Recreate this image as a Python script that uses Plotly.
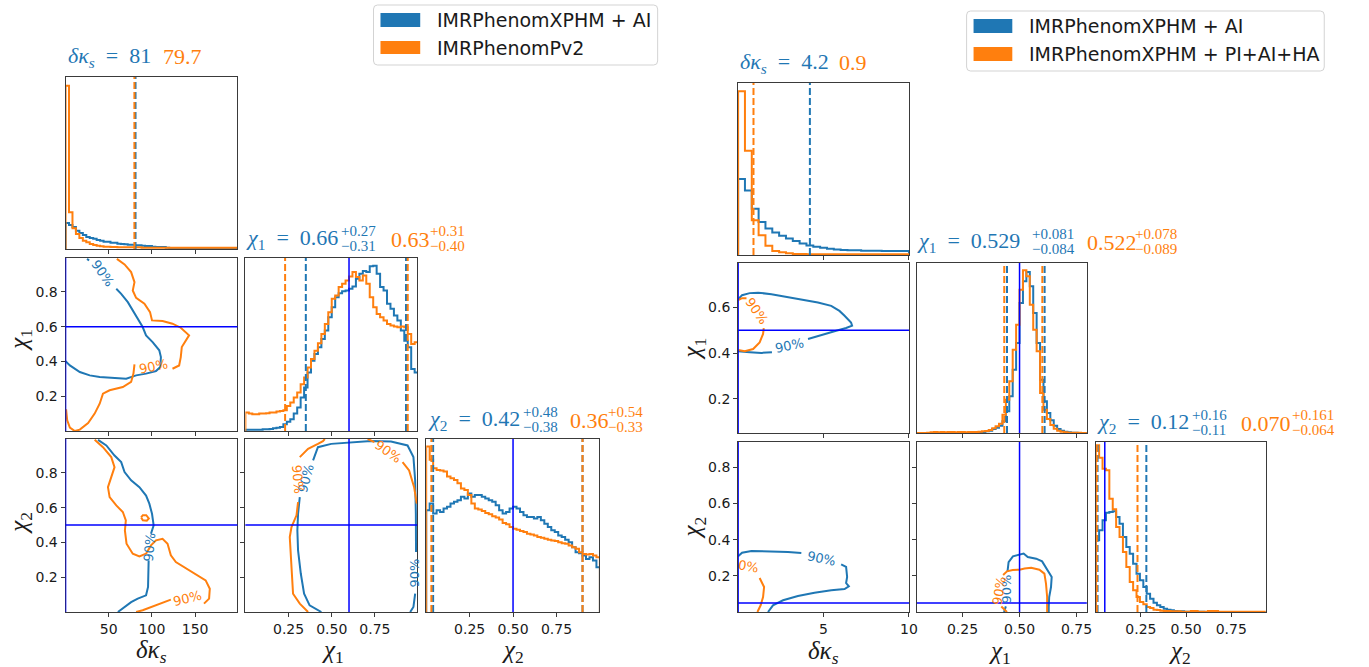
import numpy as np
import plotly.graph_objects as go

W, H = 1369, 667
BLUE = "#1f77b4"
ORANGE = "#ff7f0e"
TRUTH = "#0000ff"
SPINE = "#3a3a3a"
SANS = "DejaVu Sans"
SERIF = "Liberation Serif"

# ------------------------------------------------------------------
# Left corner: IMRPhenomXPHM + AI (blue) vs IMRPhenomPv2 (orange)
# ------------------------------------------------------------------
L_legend = ["IMRPhenomXPHM + AI", "IMRPhenomPv2"]
L_truth_dks, L_truth_chi1, L_truth_chi2 = 0.0, 0.6, 0.5

L_dks_upper = ["81", "79.7"]                       # 90% upper bounds
L_chi1_stats = [["0.66", "0.27", "0.31"], ["0.63", "0.31", "0.40"]]
L_chi2_stats = [["0.42", "0.48", "0.38"], ["0.36", "0.54", "0.33"]]

L_dks_bins = (0.0, 200.0, 50)
L_dks_hist_blue = [78, 72, 66, 55, 48, 42, 36, 33, 31, 27, 25, 22, 22, 19, 19, 16, 15, 14, 13, 13,
                   11, 11, 10, 9, 9, 7, 6, 6, 6, 4, 3, 3, 3, 3, 3, 2, 2, 2, 2, 2,
                   2, 2, 2, 2, 2, 2, 2, 2, 2, 2]
L_dks_hist_orange = [490, 110, 62, 45, 33, 25, 20, 15, 12, 10, 8, 7, 7, 6, 6, 5, 5, 5, 5, 5,
                     5, 5, 4, 4, 4, 4, 4, 4, 4, 4, 4, 4, 4, 4, 4, 4, 4, 4, 4, 4,
                     4, 4, 4, 4, 4, 4, 4, 4, 4, 4]

L_chi1_bins = (0.0, 1.0, 50)
L_chi1_hist_blue = [4, 4, 4, 4, 4, 5, 5, 6, 8, 10, 12, 20, 28, 35, 52, 70, 100, 130, 175, 210,
                    230, 250, 275, 300, 340, 370, 400, 412, 418, 420, 425, 432, 455, 470, 478, 475, 492, 494, 470, 430,
                    420, 380, 365, 345, 330, 300, 270, 250, 185, 175]
L_chi1_hist_orange = [55, 52, 50, 50, 52, 52, 53, 55, 55, 58, 60, 62, 75, 85, 100, 115, 140, 160, 190, 215,
                      240, 262, 290, 320, 355, 395, 405, 430, 440, 450, 462, 475, 460, 450, 465, 440, 400, 370, 350, 340,
                      330, 320, 315, 312, 310, 312, 310, 290, 260, 265]

L_chi2_bins = (0.0, 1.0, 50)
L_chi2_hist_blue = [303, 323, 293, 303, 298, 308, 313, 323, 328, 333, 343, 338, 353, 343, 348, 348, 343, 338, 333, 328,
                    318, 303, 293, 298, 308, 313, 308, 298, 288, 283, 283, 278, 283, 273, 263, 253, 243, 238, 228, 223,
                    215, 208, 193, 178, 175, 168, 158, 163, 153, 133]
L_chi2_hist_orange = [493, 453, 428, 423, 421, 418, 403, 398, 393, 383, 368, 363, 348, 323, 308, 305, 301, 295, 291, 285,
                      281, 275, 265, 261, 253, 248, 245, 241, 238, 233, 231, 228, 223, 221, 218, 215, 213, 211, 208, 205,
                      203, 198, 193, 188, 178, 173, 171, 173, 168, 163]

# 90% credible contours (None separates pieces / label gaps)
L_c_chi1_dks_blue_x = [0, 5.0, 16.5, 28.0, 39.5, 54.8, 70.2, 81.7, 93.2, 104.7, 109.7, 110.4, 108.5, 100.8,
                       93.2, 89.3, 83.6, 77.8, 72.1, 64.4, 58.7, None, 27.2, 24.9]
L_c_chi1_dks_blue_y = [0.402, 0.377, 0.339, 0.320, 0.310, 0.307, 0.301, 0.320, 0.330, 0.345, 0.368, 0.425, 0.464, 0.511,
                       0.550, 0.598, 0.646, 0.693, 0.741, 0.789, 0.818, None, 0.981, 0.990]
L_c_chi1_dks_orange_x = [59.4, 68.3, 75.9, 79.8, 77.8, 81.7, 91.3, 97.8, 100.1, 112.3, 123.8, 133.4, 143.0, 139.2,
                         134.6, 133.4, 131.5, 123.8, None, 79.8, 78.6, 75.9, 66.3, 51.0, 43.3, 39.5, 33.7, 26.1,
                         16.5, 10.7, 5.0, 1.9, 0.6]
L_c_chi1_dks_orange_y = [0.990, 0.958, 0.914, 0.856, 0.808, 0.766, 0.732, 0.684, 0.636, 0.632, 0.617, 0.594, 0.550, 0.521,
                         0.483, 0.425, 0.377, 0.358, None, 0.383, 0.330, 0.282, 0.253, 0.234, 0.215, 0.157, 0.100, 0.046,
                         0.008, 0.0, 0.019, 0.061, 0.125]

L_c_chi2_dks_blue_x = [37.6, 47.2, 56.7, 64.4, 68.3, 75.9, 85.5, 93.2, 97.0, 100.1, 102.0, 98.9, None,
                       96.2, 96.2, 95.5, 93.2, 83.6, 75.9, 68.3, 60.6]
L_c_chi2_dks_blue_y = [0.990, 0.958, 0.900, 0.862, 0.805, 0.757, 0.718, 0.670, 0.623, 0.565, 0.498, 0.450, None,
                       0.297, 0.220, 0.144, 0.096, 0.077, 0.057, 0.029, 0.0]
L_c_chi2_dks_orange_x = [33.7, 43.3, 52.9, 56.7, 52.9, 49.1, 51.0, 58.7, 66.3, 69.8, 68.7, 70.6, 77.8, 85.5,
                         93.2, 98.9, 104.7, 112.3, 118.1, 121.9, 127.7, 137.3, 150.7, 162.2, 167.0, 166.2, 160.3, None,
                         121.9, 104.7, 89.3, 81.7, None,
                         87.5, 89.5, 93.4, 96.4, 94.1, 89.5, 87.5]
L_c_chi2_dks_orange_y = [0.990, 0.948, 0.891, 0.833, 0.776, 0.718, 0.661, 0.613, 0.575, 0.527, 0.469, 0.393, 0.335, 0.320,
                         0.335, 0.383, 0.412, 0.421, 0.393, 0.326, 0.287, 0.259, 0.220, 0.182, 0.134, 0.077, 0.048, None,
                         0.071, 0.038, 0.010, 0.0, None,
                         0.544, 0.557, 0.557, 0.538, 0.525, 0.528, 0.544]

L_c_chi2_chi1_blue_x = [0.440, 0.372, 0.340, 0.321, 0.305, 0.301, 0.305, 0.315, None, 0.392, 0.420, 0.497, 0.612,
                        0.727, 0.843, 0.939, 0.973, 0.983, 0.987, 0.988, None, 0.983, 0.973, 0.954]
L_c_chi2_chi1_blue_y = [0.0, 0.038, 0.105, 0.220, 0.354, 0.469, 0.565, 0.661, None, 0.872, 0.948, 0.967, 0.977,
                        0.983, 0.981, 0.958, 0.891, 0.757, 0.565, 0.345, None, 0.105, 0.029, 0.0]
L_c_chi2_chi1_orange_x = [0.363, 0.315, 0.276, 0.267, 0.257, 0.267, 0.296, 0.305, None, 0.315, 0.363, 0.420, 0.449,
                          0.46, None, 0.708, 0.747, None, 0.910, 0.948, 0.977, 0.992]
L_c_chi2_chi1_orange_y = [0.0, 0.048, 0.105, 0.239, 0.431, 0.488, 0.556, 0.632, None, 0.891, 0.939, 0.967, 0.983,
                          0.995, None, 0.995, 0.977, None, 0.862, 0.814, 0.718, 0.623]

# ------------------------------------------------------------------
# Right corner: IMRPhenomXPHM + AI (blue) vs IMRPhenomXPHM + PI+AI+HA (orange)
# ------------------------------------------------------------------
R_legend = ["IMRPhenomXPHM + AI", "IMRPhenomXPHM + PI+AI+HA"]
R_truth_dks, R_truth_chi1, R_truth_chi2 = 0.0, 0.5, 0.05

R_dks_upper = ["4.2", "0.9"]
R_chi1_stats = [["0.529", "0.081", "0.084"], ["0.522", "0.078", "0.089"]]
R_chi2_stats = [["0.12", "0.16", "0.11"], ["0.070", "0.161", "0.064"]]

R_dks_bins = (0.0, 10.0, 25)
R_dks_hist_blue = [230, 195, 140, 100, 80, 68, 58, 50, 42, 35, 29, 25, 22, 19, 17, 15, 14, 14, 13, 13,
                   13, 12, 12, 12, 12]
R_dks_hist_orange = [495, 315, 105, 60, 28, 12, 8, 5, 3, 3, 2, 2, 2, 2, 2, 2, 2, 2, 2, 2,
                     2, 2, 2, 2, 2]

R_chi1_bins = (0.05, 0.80, 50)
R_chi1_hist_blue = [0, 0, 0, 0, 0, 0, 0, 0, 0, 0, 0, 0, 0, 0, 0, 0, 1, 2, 3, 3,
                    5, 7, 12, 16, 22, 35, 65, 110, 190, 270, 390, 455, 483, 440, 360, 270, 160, 95, 60, 38,
                    22, 12, 7, 4, 2, 1, 1, 0, 0, 0]
R_chi1_hist_orange = [0, 0, 0, 1, 2, 3, 2, 3, 2, 3, 3, 2, 3, 3, 2, 3, 3, 3, 4, 5,
                      6, 9, 14, 20, 28, 55, 100, 155, 250, 325, 430, 488, 470, 385, 310, 245, 120, 70, 42, 24,
                      13, 7, 4, 2, 1, 1, 1, 1, 0, 0]

R_chi2_bins = (0.0, 0.94, 50)
R_chi2_hist_blue = [215, 245, 275, 298, 300, 302, 285, 265, 225, 195, 175, 145, 115, 95, 75, 55, 40, 28, 20, 15,
                    10, 7, 5, 3, 2, 2, 1, 1, 1, 1, 1, 1, 0, 0, 0, 0, 0, 0, 0, 0,
                    0, 0, 0, 0, 0, 0, 0, 0, 0, 0]
R_chi2_hist_orange = [500, 463, 430, 425, 340, 308, 255, 225, 180, 135, 90, 65, 45, 30, 23, 15, 12, 7, 6, 4,
                      3, 3, 2, 2, 2, 1, 1, 1, 3, 3, 1, 1, 1, 3, 3, 3, 1, 1, 1, 1,
                      1, 1, 1, 1, 1, 1, 1, 1, 1, 1]

R_c_chi1_dks_blue_x = [0, 0.23, 0.68, 1.17, 1.95, 2.92, 3.70, 4.67, 5.45, 5.93, 6.23, 6.61, 6.67, 6.32, 5.74,
                       5.06, 4.47, 4.09, None, 1.98, 1.36, 0.68, 0.19, 0]
R_c_chi1_dks_blue_y = [0.636, 0.654, 0.663, 0.665, 0.658, 0.646, 0.636, 0.622, 0.607, 0.585, 0.564, 0.534, 0.520,
                       0.510, 0.498, 0.484, 0.469, 0.462, None, 0.404, 0.401, 0.404, 0.406, 0.408]
R_c_chi1_dks_orange_x = [0, 0.39, 0.88, 1.26, 1.46, 1.50, None, 0.49, 0.23, 0]
R_c_chi1_dks_orange_y = [0.414, 0.408, 0.418, 0.447, 0.484, 0.510, None, 0.641, 0.641, 0.632]

R_c_chi2_dks_blue_x = [0, 0.23, 0.78, 1.95, 2.92, 3.70, None, 6.03, 6.32, 6.38, 6.32, 6.48, 6.23, 5.45, 4.47,
                       3.50, 2.63, 2.04, 1.75]
R_c_chi2_dks_blue_y = [0.308, 0.328, 0.337, 0.335, 0.332, 0.326, None, 0.264, 0.249, 0.194, 0.160, 0.142, 0.127,
                       0.120, 0.107, 0.088, 0.065, 0.037, 0.0]
R_c_chi2_dks_orange_x = [1.26, 1.52, 1.46, 1.32, 1.13]
R_c_chi2_dks_orange_y = [0.188, 0.138, 0.083, 0.037, 0.0]

R_c_chi2_chi1_blue_x = [0.432, 0.440, None, 0.447, 0.452, 0.471, 0.500, 0.518, 0.536, 0.573, 0.599, 0.624, 0.641,
                        0.638, 0.630, 0.628, 0.628]
R_c_chi2_chi1_blue_y = [0.0, 0.031, None, 0.222, 0.276, 0.308, 0.317, 0.323, 0.304, 0.295, 0.280, 0.230, 0.194,
                        0.138, 0.083, 0.028, 0.0]
R_c_chi2_chi1_orange_x = [0.445, 0.420, None, 0.428, 0.445, 0.470, 0.500, 0.522, 0.551, 0.587, 0.609, 0.616, 0.621, 0.621]
R_c_chi2_chi1_orange_y = [0.0, 0.030, None, 0.205, 0.225, 0.232, 0.234, 0.241, 0.245, 0.234, 0.212, 0.157, 0.083, 0.0]

# ------------------------------------------------------------------
# helpers
# ------------------------------------------------------------------
def px(x):
    return x / W


def py(y):
    return 1 - y / H


def ax(k, a):
    return a if k == 1 else f"{a}{k}"


fig = go.Figure()
layout_axes = {}
shapes = []
annos = []

TICKFONT = dict(family=SANS, size=14, color="#1a1a1a")


def setup_axes(k, box, xr, yr, xt, yt, xlab, ylab):
    l, t, r, b = box
    common = dict(showline=True, mirror=True, linecolor=SPINE, linewidth=1, showgrid=False,
                  zeroline=False, fixedrange=True, ticklen=4, tickwidth=1, tickcolor=SPINE,
                  tickfont=TICKFONT)
    xa = dict(common, domain=[px(l), px(r)], range=xr, anchor=ax(k, "y"))
    ya = dict(common, domain=[py(b), py(t)], range=yr, anchor=ax(k, "x"))
    if xt:
        xa.update(ticks="outside", tickmode="array", tickvals=xt[0], ticktext=xt[1], showticklabels=xlab)
    else:
        xa.update(ticks="", showticklabels=False)
    if yt:
        ya.update(ticks="outside", tickmode="array", tickvals=yt[0], ticktext=yt[1], showticklabels=ylab)
    else:
        ya.update(ticks="", showticklabels=False)
    layout_axes["xaxis" + ("" if k == 1 else str(k))] = xa
    layout_axes["yaxis" + ("" if k == 1 else str(k))] = ya


def step_hist(k, bins, heights, color):
    edges = np.linspace(bins[0], bins[1], bins[2] + 1)
    h = list(heights)
    xs = [edges[0]] + list(edges) + [edges[-1]]
    ys = [0] + h + [h[-1]] + [0]
    fig.add_trace(go.Scatter(x=xs, y=ys, mode="lines", line=dict(color=color, width=2, shape="hv"),
                             xaxis=ax(k, "x"), yaxis=ax(k, "y"), hoverinfo="skip", showlegend=False))


def contour(k, xs, ys, color):
    fig.add_trace(go.Scatter(x=xs, y=ys, mode="lines", line=dict(color=color, width=2),
                             connectgaps=False, xaxis=ax(k, "x"), yaxis=ax(k, "y"),
                             hoverinfo="skip", showlegend=False))


def vline(k, v, color, width=2, dash=None):
    shapes.append(dict(type="line", xref=ax(k, "x"), yref=ax(k, "y") + " domain", x0=v, x1=v, y0=0, y1=1,
                       line=dict(color=color, width=width, dash=dash), layer="above"))


def hline(k, v, color, width=1.5):
    shapes.append(dict(type="line", xref=ax(k, "x") + " domain", yref=ax(k, "y"), x0=0, x1=1, y0=v, y1=v,
                       line=dict(color=color, width=width), layer="above"))


def ptext(x, y, s, size, color, family=SANS, xanchor="center", angle=0):
    annos.append(dict(x=px(x), y=py(y), xref="paper", yref="paper", text=s, showarrow=False,
                      font=dict(family=family, size=size, color=color), xanchor=xanchor,
                      yanchor="middle", textangle=angle))


def clabel(k, x, y, color, angle, s="90%"):
    annos.append(dict(x=x, y=y, xref=ax(k, "x"), yref=ax(k, "y"), text=s, showarrow=False,
                      font=dict(family=SANS, size=13, color=color), xanchor="center",
                      yanchor="middle", textangle=angle))


def rounded_box(l, t, r, b, rad=4):
    pts = (f"M {px(l + rad)},{py(t)} L {px(r - rad)},{py(t)} Q {px(r)},{py(t)} {px(r)},{py(t + rad)} "
           f"L {px(r)},{py(b - rad)} Q {px(r)},{py(b)} {px(r - rad)},{py(b)} "
           f"L {px(l + rad)},{py(b)} Q {px(l)},{py(b)} {px(l)},{py(b - rad)} "
           f"L {px(l)},{py(t + rad)} Q {px(l)},{py(t)} {px(l + rad)},{py(t)} Z")
    shapes.append(dict(type="path", xref="paper", yref="paper", path=pts,
                       line=dict(color="#d3d3d3", width=1), fillcolor="rgba(255,255,255,0.8)", layer="above"))


def legend(box, patches, texts_x, texts_y, labels):
    rounded_box(*box)
    for (l, t, r, b), color in zip(patches, [BLUE, ORANGE]):
        shapes.append(dict(type="rect", xref="paper", yref="paper", x0=px(l), x1=px(r), y0=py(b), y1=py(t),
                           fillcolor=color, line=dict(width=0), layer="above"))
    for ty, lab in zip(texts_y, labels):
        ptext(texts_x, ty, lab, 19, "#1a1a1a", xanchor="left")


EQ = "\u2002=\u2002"
DKS = "<i>δκ</i><sub><i>s</i></sub>"
CHI1 = "<i>χ</i><sub>1</sub>"
CHI2 = "<i>χ</i><sub>2</sub>"
TITLE_SIZE = 22
SCRIPT_SIZE = 15


def stat_title(y, sym, stats, xs):
    # xs: left edges of [blue value, blue scripts, orange value, orange scripts]
    for i, (color, (med, plus, minus)) in enumerate(zip([BLUE, ORANGE], stats)):
        main = (sym + EQ + med) if i == 0 else med
        ptext(xs[2 * i], y, main, TITLE_SIZE, color, family=SERIF, xanchor="left")
        ptext(xs[2 * i + 1], y - 8, f"+{plus}", SCRIPT_SIZE, color, family=SERIF, xanchor="left")
        ptext(xs[2 * i + 1], y + 7, f"−{minus}", SCRIPT_SIZE, color, family=SERIF, xanchor="left")


def bound_title(y, sym, values, xs):
    ptext(xs[0], y, sym + EQ + values[0], TITLE_SIZE, BLUE, family=SERIF, xanchor="left")
    ptext(xs[1], y, values[1], TITLE_SIZE, ORANGE, family=SERIF, xanchor="left")


def build_corner(k0, cols, rows, ranges, xticks, yticks, hist_top, hists, bins, contours, clabels,
                 truths, bounds, stats, titles, axis_labels):
    ids = {(0, 0): k0, (1, 0): k0 + 1, (1, 1): k0 + 2, (2, 0): k0 + 3, (2, 1): k0 + 4, (2, 2): k0 + 5}
    for (r, c), k in ids.items():
        box = (cols[c][0], rows[r][0], cols[c][1], rows[r][1])
        if r == c:
            setup_axes(k, box, ranges[c], [0, hist_top[c]], xticks[c], None, r == 2, False)
        else:
            setup_axes(k, box, ranges[c], ranges[r], xticks[c], yticks[r], r == 2, c == 0)
    # 1D marginals
    for c in range(3):
        k = ids[(c, c)]
        step_hist(k, bins[c], hists[c][0], BLUE)
        step_hist(k, bins[c], hists[c][1], ORANGE)
    # 2D contours
    for key, (bx, by, ox, oy) in contours.items():
        k = ids[key]
        contour(k, bx, by, BLUE)
        contour(k, ox, oy, ORANGE)
    for key, lab in clabels:
        clabel(ids[key], *lab)
    # injected values
    for (r, c), k in ids.items():
        if r == c:
            if c > 0:
                vline(k, truths[c], TRUTH, width=1.5)
        else:
            vline(k, truths[c], TRUTH, width=1.5)
            hline(k, truths[r], TRUTH)
    # credible bounds on marginals
    dash = "7px,3px"
    k = ids[(0, 0)]
    for color, v in zip([BLUE, ORANGE], bounds):
        vline(k, float(v), color, dash=dash)
    for c, st in ((1, stats[0]), (2, stats[1])):
        k = ids[(c, c)]
        for color, (med, plus, minus) in zip([BLUE, ORANGE], st):
            vline(k, float(med) - float(minus), color, dash=dash)
            vline(k, float(med) + float(plus), color, dash=dash)
    # titles
    bound_title(titles[0][0], DKS, bounds, titles[0][1])
    stat_title(titles[1][0], CHI1, stats[0], titles[1][1])
    stat_title(titles[2][0], CHI2, stats[1], titles[2][1])
    # axis labels
    for (x, y, s, ang) in axis_labels:
        ptext(x, y, s, 25, "#1a1a1a", family=SERIF, angle=ang)


T_025 = ([0.25, 0.5, 0.75], ["0.25", "0.50", "0.75"])
T_02_08 = ([0.2, 0.4, 0.6, 0.8], ["0.2", "0.4", "0.6", "0.8"])
T_02_06 = ([0.2, 0.4, 0.6], ["0.2", "0.4", "0.6"])

# ---------------- left corner ----------------
build_corner(
    1,
    cols=[(66, 239), (247, 420), (429, 603)],
    rows=[(77, 249), (258, 431), (439, 612)],
    ranges=[[0, 199], [0, 0.995], [0, 0.995]],
    xticks=[([50, 100, 150], ["50", "100", "150"]), T_025, T_025],
    yticks=[None, T_02_08, T_02_08],
    hist_top=[516, 517, 515],
    hists=[(L_dks_hist_blue, L_dks_hist_orange), (L_chi1_hist_blue, L_chi1_hist_orange),
           (L_chi2_hist_blue, L_chi2_hist_orange)],
    bins=[L_dks_bins, L_chi1_bins, L_chi2_bins],
    contours={(1, 0): (L_c_chi1_dks_blue_x, L_c_chi1_dks_blue_y, L_c_chi1_dks_orange_x, L_c_chi1_dks_orange_y),
              (2, 0): (L_c_chi2_dks_blue_x, L_c_chi2_dks_blue_y, L_c_chi2_dks_orange_x, L_c_chi2_dks_orange_y),
              (2, 1): (L_c_chi2_chi1_blue_x, L_c_chi2_chi1_blue_y, L_c_chi2_chi1_orange_x, L_c_chi2_chi1_orange_y)},
    clabels=[((1, 0), (43.3, 0.905, BLUE, 55)), ((1, 0), (101.5, 0.370, ORANGE, -12)),
             ((2, 0), (97.0, 0.372, BLUE, -85)), ((2, 0), (141.0, 0.075, ORANGE, -14)),
             ((2, 1), (0.352, 0.766, BLUE, -75)), ((2, 1), (0.300, 0.765, ORANGE, 85)),
             ((2, 1), (0.827, 0.925, ORANGE, 35)), ((2, 1), (0.980, 0.225, BLUE, -90))],
    truths=[L_truth_dks, L_truth_chi1, L_truth_chi2],
    bounds=L_dks_upper,
    stats=[L_chi1_stats, L_chi2_stats],
    titles=[(57, [66, 162]), (239, [246, 341, 392, 431]), (420, [429, 524, 572, 610])],
    axis_labels=[(153, 651, DKS, 0), (335, 651, CHI1, 0), (516, 651, CHI2, 0),
                 (20, 340, CHI1, -90), (20, 523, CHI2, -90)],
)

# ---------------- right corner ----------------
build_corner(
    7,
    cols=[(743, 915), (923, 1094), (1103, 1274)],
    rows=[(83, 255), (263, 433), (442, 612)],
    ranges=[[0, 10], [0.05, 0.795], [0, 0.94]],
    xticks=[([5, 10], ["5", "10"]), T_025, T_025],
    yticks=[None, T_02_06, T_02_08],
    hist_top=[520, 510, 510],
    hists=[(R_dks_hist_blue, R_dks_hist_orange), (R_chi1_hist_blue, R_chi1_hist_orange),
           (R_chi2_hist_blue, R_chi2_hist_orange)],
    bins=[R_dks_bins, R_chi1_bins, R_chi2_bins],
    contours={(1, 0): (R_c_chi1_dks_blue_x, R_c_chi1_dks_blue_y, R_c_chi1_dks_orange_x, R_c_chi1_dks_orange_y),
              (2, 0): (R_c_chi2_dks_blue_x, R_c_chi2_dks_blue_y, R_c_chi2_dks_orange_x, R_c_chi2_dks_orange_y),
              (2, 1): (R_c_chi2_chi1_blue_x, R_c_chi2_chi1_blue_y, R_c_chi2_chi1_orange_x, R_c_chi2_chi1_orange_y)},
    clabels=[((1, 0), (3.03, 0.433, BLUE, -12)), ((1, 0), (1.05, 0.585, ORANGE, 55)),
             ((2, 0), (4.87, 0.295, BLUE, 12)), ((2, 0), (0.62, 0.250, ORANGE, 10, "0%")),
             ((2, 1), (0.442, 0.126, BLUE, -90)), ((2, 1), (0.412, 0.118, ORANGE, -80))],
    truths=[R_truth_dks, R_truth_chi1, R_truth_chi2],
    bounds=R_dks_upper,
    stats=[R_chi1_stats, R_chi2_stats],
    titles=[(63, [743, 843]), (242, [921, 1037, 1092, 1141]), (423, [1102, 1198, 1247, 1299])],
    axis_labels=[(829, 652, DKS, 0), (1007, 652, CHI1, 0), (1188, 652, CHI2, 0),
                 (698, 348, CHI1, -90), (698, 527, CHI2, -90)],
)

# legends
legend((376, 5, 662, 65), [(383, 13, 423, 27), (383, 41, 423, 54)], 438, [20, 48], L_legend)
legend((973, 11, 1333, 71), [(980, 19, 1019, 33), (980, 47, 1019, 61)], 1034, [26, 54], R_legend)

fig.update_layout(
    width=W, height=H,
    margin=dict(l=0, r=0, t=0, b=0),
    paper_bgcolor="white", plot_bgcolor="white",
    showlegend=False,
    shapes=shapes, annotations=annos,
    **layout_axes,
)

fig.write_html("out.html")
